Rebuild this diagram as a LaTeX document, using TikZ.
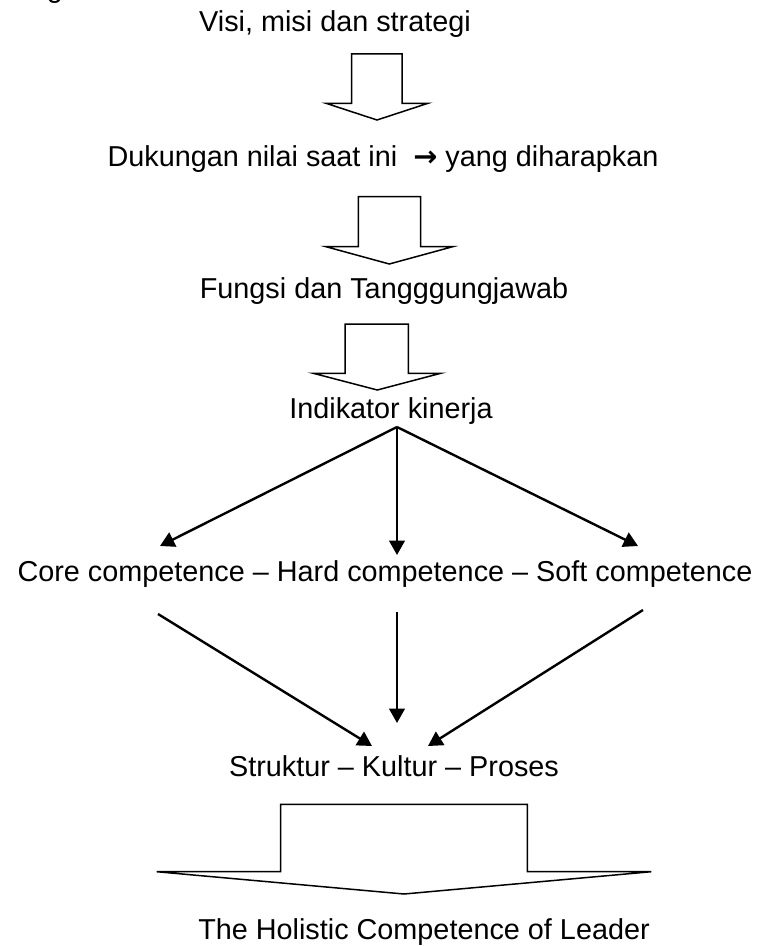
\documentclass[tikz,border=0pt]{standalone}
\usepackage{fontspec}
\setmainfont{Liberation Sans}
\newfontfamily\arrowfont{DejaVu Sans}
\usetikzlibrary{arrows.meta}
\begin{document}
\begin{tikzpicture}[x=0.5pt,y=-0.5pt,
  lbl/.style={anchor=base,inner sep=0pt,font=\fontsize{14.4pt}{17pt}\selectfont},
  blockarrow/.style={draw=black,fill=white,line width=0.75pt,line join=miter},
  conn/.style={draw=black,line width=1.2pt,-{Triangle[length=7.2pt,width=7.8pt]}}]
\useasboundingbox (0,0) rectangle (764,946);
\fill[white] (0,0) rectangle (764,946);
\begin{scope}
\clip (0,0) rectangle (764,946);
\node[lbl] (frag) at (55,-2) {g};
\end{scope}
% text nodes
\node[lbl] (visi) at (335,32) {Visi, misi dan strategi};
\node[lbl] (duk) at (383,167) {Dukungan nilai saat ini\ \ {\arrowfont\bfseries →} yang diharapkan};
\node[lbl] (fun) at (384,299) {Fungsi dan Tangggungjawab};
\node[lbl] (ind) at (391,418) {Indikator kinerja};
\node[lbl] (core) at (385,581) {Core competence -- Hard competence -- Soft competence};
\node[lbl] (str) at (394,776) {Struktur -- Kultur -- Proses};
\node[lbl] (hol) at (424,939) {The Holistic Competence of Leader};
% block arrows
\draw[blockarrow] (351.7,54) -- (402,54) -- (402,103.3) -- (428,103.3) -- (377,120) -- (326,103.3) -- (351.7,103.3) -- cycle;
\draw[blockarrow] (358.3,196.7) -- (420.7,196.7) -- (420.7,246.7) -- (452.7,246.7) -- (389.3,264) -- (326,246.7) -- (358.3,246.7) -- cycle;
\draw[blockarrow] (345,324) -- (408.3,324) -- (408.3,373.3) -- (440.7,373.3) -- (377.3,390) -- (313.3,373.3) -- (345,373.3) -- cycle;
\draw[blockarrow] (280.7,804.3) -- (527.3,804.3) -- (527.3,871.7) -- (651.3,871.7) -- (404,894) -- (156.7,871.7) -- (280.7,871.7) -- cycle;
% connector end points
\coordinate (indout) at (397,427);
\coordinate (coreL) at (160,546);
\coordinate (coreM) at (397,555);
\coordinate (coreR) at (638,546);
\coordinate (fromL) at (158,614);
\coordinate (fromM) at (397,612);
\coordinate (fromR) at (643,610);
\coordinate (strL) at (372,746);
\coordinate (strM) at (397,723);
\coordinate (strR) at (428,746);
\draw[conn] (indout) -- (coreL);
\draw[conn] (indout) -- (coreM);
\draw[conn] (indout) -- (coreR);
\draw[conn] (fromL) -- (strL);
\draw[conn] (fromM) -- (strM);
\draw[conn] (fromR) -- (strR);
\end{tikzpicture}
\end{document}
